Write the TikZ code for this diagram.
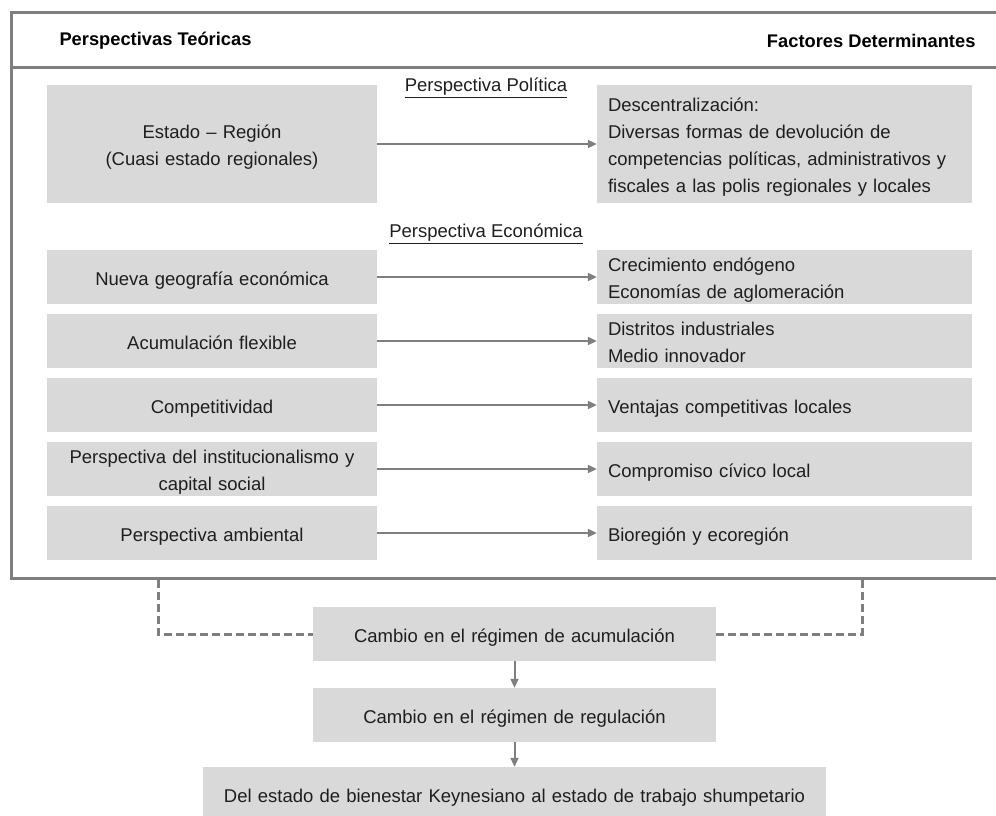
\documentclass[tikz,border=0pt]{standalone}
\usepackage{fontspec}
\setmainfont{Liberation Sans}
\usetikzlibrary{arrows.meta}
\definecolor{boxfill}{HTML}{D9D9D9}
\definecolor{linegray}{HTML}{7F7F7F}
\definecolor{ink}{HTML}{1E1E1E}
\begin{document}
\begin{tikzpicture}[x=1pt,y=-1pt,
  every node/.style={font=\fontsize{18.5}{27.3}\selectfont, text=ink},
  % fixed struts on the first and last line keep every box text at the same offset
  struts/.style={execute at begin node={\rule{0pt}{20.5pt}},
    execute at end node={\rule[-4.5pt]{0pt}{4.5pt}}},
  lbox/.style={fill=boxfill, draw=none, inner xsep=6pt, inner ysep=0pt,
    text width=318pt, align=center, minimum width=330pt, struts},
  rbox/.style={fill=boxfill, draw=none, inner xsep=11pt, inner ysep=0pt,
    text width=353pt, align=left, minimum width=375pt, struts},
  cbox/.style={fill=boxfill, draw=none, inner sep=0pt, align=center,
    text width=#1, struts},
  heading/.style={font=\fontsize{18.3}{22}\selectfont\bfseries, text=black},
  sect/.style={font=\fontsize{18.5}{22}\selectfont},
  frameline/.style={draw=linegray, line width=3pt},
  arr/.style={draw=linegray, line width=2pt,
    -{Triangle[length=9pt,width=8pt]}},
  dashlink/.style={draw=linegray, line width=3pt,
    dash pattern=on 8pt off 4pt}
]
\clip (0,0) rectangle (996,816);
\useasboundingbox (0,0) rectangle (996,816);

% outer frame and header rule
\draw[frameline] (11,12.5) rectangle (1012,578.5);
\draw[frameline] (11,67.5) -- (1012,67.5);

% column headings
\node[heading, anchor=west] (hleft) at (56,41) {Perspectivas Teóricas};
\node[heading, anchor=east] (hright) at (979,41) {Factores Determinantes};

% political perspective
\node[sect] (tpol) at (486,88) {\underline{Perspectiva Política}};
\node[lbox, minimum height=118pt] (estado) at (212,144)
  {Estado -- Región\\(Cuasi estado regionales)};
\node[rbox, minimum height=118pt] (descent) at (784.5,144)
  {Descentralización:\\Diversas formas de devolución de\\competencias políticas, administrativos y\\fiscales a las polis regionales y locales};
\draw[arr] (estado.east) -- (descent.west);

% economic perspective
\node[sect] (teco) at (486,234) {\underline{Perspectiva Económica}};

\node[lbox, minimum height=54pt] (geo) at (212,277) {Nueva geografía económica};
\node[rbox, minimum height=54pt] (crec) at (784.5,277)
  {Crecimiento endógeno\\Economías de aglomeración};
\draw[arr] (geo.east) -- (crec.west);

\node[lbox, minimum height=54pt] (acflex) at (212,341) {Acumulación flexible};
\node[rbox, minimum height=54pt] (distr) at (784.5,341)
  {Distritos industriales\\Medio innovador};
\draw[arr] (acflex.east) -- (distr.west);

\node[lbox, minimum height=54pt] (compet) at (212,405) {Competitividad};
\node[rbox, minimum height=54pt] (ventaj) at (784.5,405)
  {Ventajas competitivas locales};
\draw[arr] (compet.east) -- (ventaj.west);

\node[lbox, minimum height=54pt] (instit) at (212,469)
  {Perspectiva del institucionalismo y\\capital social};
\node[rbox, minimum height=54pt] (civico) at (784.5,469)
  {Compromiso cívico local};
\draw[arr] (instit.east) -- (civico.west);

\node[lbox, minimum height=54pt] (ambient) at (212,533) {Perspectiva ambiental};
\node[rbox, minimum height=54pt] (bioreg) at (784.5,533)
  {Bioregión y ecoregión};
\draw[arr] (ambient.east) -- (bioreg.west);

% outcome chain
\node[cbox=403pt, minimum height=54pt] (acum) at (514.5,634)
  {Cambio en el régimen de acumulación};
\node[cbox=403pt, minimum height=54pt] (regul) at (514.5,715)
  {Cambio en el régimen de regulación};
\node[cbox=623pt, minimum height=54pt] (keynes) at (514.5,794)
  {Del estado de bienestar Keynesiano al estado de trabajo shumpetario};
\draw[arr] (acum.south) -- (regul.north);
\draw[arr] (regul.south) -- (keynes.north);

% dashed links from the frame to the first outcome
\coordinate (dleft) at (158,580);
\coordinate (dright) at (862,580);
\draw[dashlink] (dleft) |- (acum.west);
\draw[dashlink] (acum.east) -| (dright);
\end{tikzpicture}
\end{document}
